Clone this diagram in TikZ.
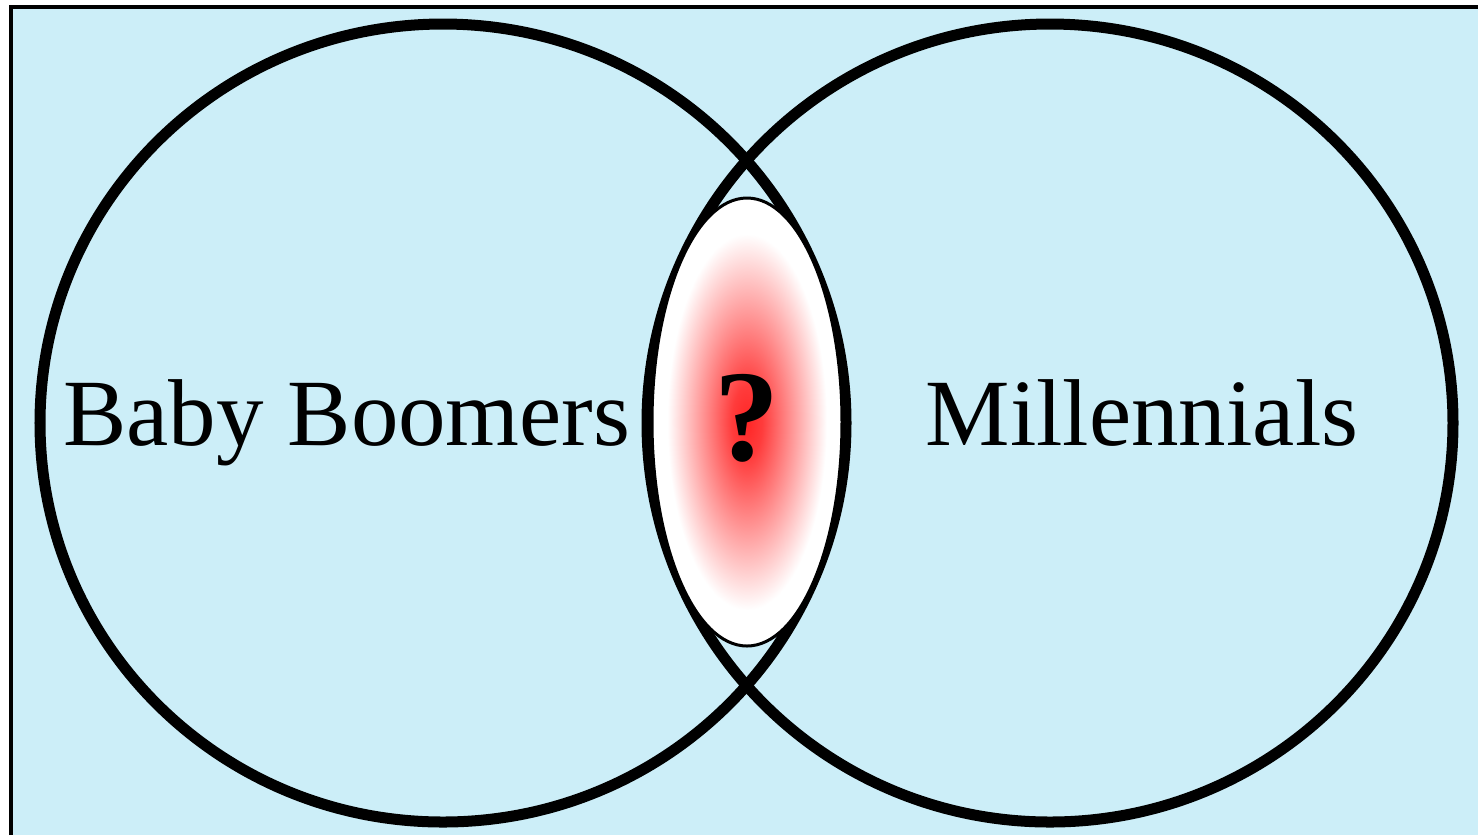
\documentclass[tikz,border=0pt]{standalone}
\usepackage{fontspec}
\setmainfont{Liberation Serif}
\usepackage{xcolor}
\definecolor{skyfill}{HTML}{CCEEF8}
\definecolor{inkdark}{HTML}{000000}
\definecolor{glowred}{HTML}{FF2626}
\usepackage{tikz}
\usetikzlibrary{positioning}
\pgfdeclareradialshading{qglow}{\pgfpoint{0bp}{0bp}}{color(0bp)=(glowred); color(4bp)=(glowred!90!white); color(21bp)=(white); color(50bp)=(white)}

\begin{document}
\begin{tikzpicture}[x=0.01cm, y=-0.01cm,
  setring/.style={draw=inkdark, line width=0.11cm},
  setlabel/.style={anchor=base, font=\fontsize{27}{32}\selectfont, inner sep=0pt}]
  \useasboundingbox (0,0) rectangle (1478,835);
  % Background panel
  \fill[skyfill] (11,7) rectangle (1478,835);
  \draw[inkdark, line width=0.04cm] (11,835) -- (11,7) -- (1478,7);
  % Sets
  \draw[setring] (443,423) ellipse (403 and 399);
  \draw[setring] (1050,423) ellipse (403 and 399);
  % Overlap
  \shade[shading=qglow] (747,422) ellipse (95 and 224);
  \draw[inkdark, line width=0.03cm] (747,422) ellipse (95 and 224);
  % Labels
  \node[setlabel] (boomers) at (347,445) {Baby Boomers};
  \node[setlabel] (millennials) at (1142,445) {Millennials};
  \node[font=\fontsize{37}{40}\selectfont\bfseries, inner sep=0pt] (unknown) at (747,418) {?};
\end{tikzpicture}
\end{document}
